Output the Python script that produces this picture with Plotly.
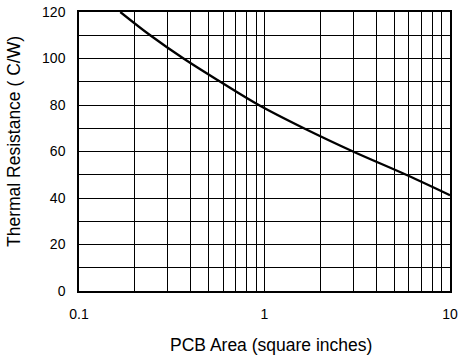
import plotly.graph_objects as go

# Data
pcb_area = [0.167, 0.242, 0.366, 0.578, 0.931, 1.63, 3.0, 5.8, 10.0]
thermal_res = [120, 110, 100, 90, 80, 70, 60, 50, 41.2]

x_tick_vals = [0.1, 1, 10]
x_tick_text = ["0.1", "1", "10"]
x_minor_vals = [0.2, 0.3, 0.4, 0.5, 0.6, 0.7, 0.8, 0.9,
                2, 3, 4, 5, 6, 7, 8, 9]
y_tick_vals = [0, 20, 40, 60, 80, 100, 120]
y_minor_vals = [10, 30, 50, 70, 90, 110]

x_title = "PCB Area (square inches)"
y_title = "Thermal Resistance ( C/W)"

FONT = "Liberation Sans, Arial, sans-serif"

fig = go.Figure()
fig.add_trace(go.Scatter(
    x=pcb_area, y=thermal_res, mode="lines",
    line=dict(color="black", width=2.3, shape="spline", smoothing=1.0),
    hoverinfo="skip", showlegend=False,
))

grid = dict(showgrid=True, gridcolor="black", gridwidth=1)

fig.update_layout(
    template="none",
    width=462, height=355,
    margin=dict(l=79, r=12, t=12, b=64, autoexpand=False),
    paper_bgcolor="white", plot_bgcolor="white",
    font=dict(family=FONT, size=14, color="black"),
    xaxis=dict(
        type="log", range=[-1, 1], automargin=False,
        tickmode="array", tickvals=x_tick_vals, ticktext=x_tick_text,
        minor=dict(tickmode="array", tickvals=x_minor_vals, ticks="", **grid),
        showline=True, linecolor="black", linewidth=1.5, mirror=True,
        ticks="", ticklabelstandoff=9,
        tickfont=dict(size=14),
        zeroline=False, **grid,
    ),
    yaxis=dict(
        range=[0, 120], automargin=False,
        tickmode="array", tickvals=y_tick_vals,
        minor=dict(tickmode="array", tickvals=y_minor_vals, ticks="", **grid),
        showline=True, linecolor="black", linewidth=1.5, mirror=True,
        ticks="", ticklabelstandoff=9,
        tickfont=dict(size=14),
        zeroline=False, **grid,
    ),
    annotations=[
        dict(text=x_title, xref="paper", yref="paper", x=0.517, y=0,
             xanchor="center", yanchor="middle", yshift=-54, showarrow=False,
             font=dict(size=17.5)),
        dict(text=y_title, xref="paper", yref="paper", x=0, y=0.534,
             xanchor="center", yanchor="middle", xshift=-65, textangle=-90,
             showarrow=False, font=dict(size=17.5)),
    ],
)

fig.write_html("out.html")
